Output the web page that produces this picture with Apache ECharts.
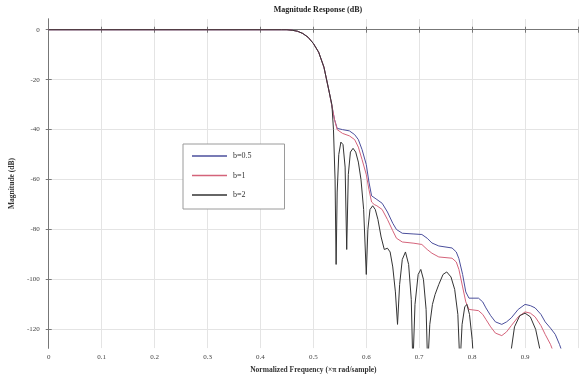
<!DOCTYPE html>
<html>
<head>
<meta charset="utf-8">
<script src="https://cdn.jsdelivr.net/npm/echarts@6/dist/echarts.min.js"></script>
<style>
  html, body { margin: 0; padding: 0; background: #fff; }
  #chart { width: 581px; height: 379px; }
</style>
</head>
<body>
<div id="chart"></div>
<script>
// Passband and transition band, shared by all three filters
const freqPass = [0, 0.1, 0.2, 0.3, 0.4, 0.44, 0.45, 0.46, 0.47, 0.48, 0.49, 0.50, 0.51, 0.52, 0.53];
const dbPass   = [0, 0, 0, 0, 0, 0, 0, -0.2, -0.6, -1.5, -3, -5.5, -9, -15, -25];

// Stopband, b = 0.5
const freqB05 = [0.54, 0.545, 0.555, 0.568, 0.578, 0.585, 0.592, 0.6, 0.605, 0.61, 0.62, 0.63, 0.64, 0.65, 0.657, 0.668, 0.69, 0.705, 0.715, 0.724, 0.737, 0.762, 0.77, 0.775, 0.782, 0.788, 0.794, 0.812, 0.82, 0.826, 0.835, 0.844, 0.856, 0.865, 0.874, 0.887, 0.9, 0.91, 0.919, 0.93, 0.938, 0.948, 0.957, 0.965, 0.975];
const dbB05   = [-36, -39.5, -40, -40.5, -42, -44, -48, -54, -61, -66.5, -68, -69.5, -73, -77.5, -80, -81.5, -81.8, -82, -83.5, -85.4, -86.6, -87.4, -89, -91.7, -98, -105, -107.5, -107.5, -109, -111.4, -114.5, -117, -118, -117, -115.4, -112, -110, -110.5, -111.4, -114, -117, -119.5, -122, -126, -132];

// Stopband, b = 1
const freqB1 = [0.54, 0.545, 0.555, 0.568, 0.578, 0.585, 0.592, 0.6, 0.605, 0.61, 0.615, 0.62, 0.63, 0.64, 0.65, 0.657, 0.668, 0.69, 0.705, 0.715, 0.724, 0.737, 0.762, 0.77, 0.775, 0.782, 0.788, 0.794, 0.812, 0.82, 0.826, 0.835, 0.844, 0.856, 0.865, 0.874, 0.887, 0.9, 0.91, 0.919, 0.93, 0.938, 0.948, 0.957];
const dbB1   = [-36, -40, -41.5, -42.5, -44, -47, -52, -58, -64, -69, -70, -70.5, -72, -76, -80.5, -83.5, -85, -85.5, -86, -88, -89.5, -91, -91.5, -93, -96, -103, -109, -112, -112.5, -114, -116, -119, -121.5, -122.5, -121, -118.5, -115, -113, -113.5, -115, -118.5, -122, -126, -131];

// Stopband, b = 2
const freqB2 = [0.535, 0.538, 0.541, 0.543, 0.545, 0.548, 0.552, 0.556, 0.56, 0.563, 0.566, 0.57, 0.575, 0.58, 0.585, 0.59, 0.595, 0.6, 0.603, 0.607, 0.612, 0.617, 0.622, 0.628, 0.634, 0.64, 0.645, 0.65, 0.655, 0.659, 0.663, 0.668, 0.674, 0.68, 0.685, 0.688, 0.692, 0.698, 0.703, 0.708, 0.713, 0.716, 0.72, 0.725, 0.73, 0.737, 0.745, 0.752, 0.76, 0.767, 0.773, 0.777, 0.781, 0.786, 0.79, 0.795, 0.8, 0.805, 0.84, 0.874, 0.88, 0.89, 0.9, 0.91, 0.92, 0.928, 0.935];
const dbB2   = [-30, -40, -60, -94, -65, -50, -45, -46, -55, -88, -58, -49, -47.5, -49, -53, -60, -72, -98, -80, -72, -70.5, -72, -76, -83, -88, -87.5, -89, -95, -105, -118, -102, -92, -89, -94, -108, -135, -110, -98, -96, -100, -112, -135, -118, -110, -106, -102, -98, -97, -99, -104, -114, -135, -118, -111, -110, -114, -124, -140, -150, -128, -119, -114.5, -113.5, -115, -120, -128, -140];

const legendNames = ['b=0.5', 'b=1', 'b=2'];
const yTicks = [0, -20, -40, -60, -80, -100, -120];

function pairs(fa, da) { return fa.map((f, i) => [f, da[i]]); }
const passPts = pairs(freqPass, dbPass);

const FONT = '"Liberation Serif", "DejaVu Serif", serif';
const gridColor = '#e4e4e4';
const axisColor = '#777';

const chart = echarts.init(document.getElementById('chart'), null, { renderer: 'canvas' });

const lineSeries = (name, pts, color) => ({
  name: name,
  type: 'line',
  data: passPts.concat(pts),
  symbol: 'none',
  showSymbol: false,
  lineStyle: { color: color, width: 1 },
  itemStyle: { color: color },
  clip: true,
  animation: false,
  z: 3
});

chart.setOption({
  animation: false,
  backgroundColor: '#fff',
  title: {
    text: 'Magnitude Response (dB)',
    left: 313, top: 1, textAlign: 'center',
    textStyle: { fontFamily: FONT, fontSize: 8, fontWeight: 'bold', color: '#222' }
  },
  grid: { left: 47, right: 3, top: 19, bottom: 25, containLabel: false },
  legend: {
    data: legendNames.map(n => ({ name: n, icon: 'rect' })),
    orient: 'vertical',
    left: 183, top: 144,
    padding: [7, 33, 9, 9],
    itemWidth: 35, itemHeight: 1.5, itemGap: 9.5,
    backgroundColor: '#fff',
    borderColor: '#9a9a9a', borderWidth: 1,
    textStyle: { fontFamily: FONT, fontSize: 8, lineHeight: 10, color: '#333', padding: [0, 0, 0, 1] }
  },
  xAxis: [{
    type: 'value', min: 0, max: 1, interval: 0.1,
    name: 'Normalized Frequency (\u00d7\u03c0 rad/sample)',
    nameLocation: 'middle', nameGap: 15,
    nameTextStyle: { fontFamily: FONT, fontSize: 7.5, fontWeight: 'bold', color: '#333' },
    axisLine: { show: true, lineStyle: { color: axisColor, width: 1 } },
    axisTick: { show: true, inside: true, length: 3, lineStyle: { color: axisColor } },
    axisLabel: {
      fontFamily: FONT, fontSize: 7, color: '#444', margin: 6,
      formatter: v => (v > 0.95 ? '' : String(Math.round(v * 10) / 10))
    },
    splitLine: { show: true, lineStyle: { color: gridColor, width: 1 } }
  }, {
    type: 'value', min: 0, max: 1, interval: 0.1, position: 'top',
    axisLine: { show: true, lineStyle: { color: axisColor, width: 1 } },
    axisTick: { show: true, inside: true, length: 3, lineStyle: { color: axisColor } },
    axisLabel: { show: false },
    splitLine: { show: false }
  }],
  yAxis: [{
    type: 'value', min: -127.5, max: 4.3,
    name: 'Magnitude (dB)',
    nameLocation: 'middle', nameGap: 26,
    nameTextStyle: { fontFamily: FONT, fontSize: 7.5, fontWeight: 'bold', color: '#333' },
    axisLine: { show: true, lineStyle: { color: axisColor, width: 1 } },
    axisTick: { show: true, inside: true, length: 3, customValues: yTicks, lineStyle: { color: axisColor } },
    axisLabel: { fontFamily: FONT, fontSize: 7, color: '#444', margin: 9, customValues: yTicks },
    splitLine: { show: true, lineStyle: { color: gridColor, width: 1 } }
  }, {
    type: 'value', min: -127.5, max: 4.3, position: 'right',
    axisLine: { show: true, lineStyle: { color: axisColor, width: 1 } },
    axisTick: { show: true, inside: true, length: 3, customValues: yTicks, lineStyle: { color: axisColor } },
    axisLabel: { show: false },
    splitLine: { show: false }
  }],
  series: [
    lineSeries(legendNames[0], pairs(freqB05, dbB05), '#4b4f9c'),
    lineSeries(legendNames[1], pairs(freqB1, dbB1), '#d4637a'),
    lineSeries(legendNames[2], pairs(freqB2, dbB2), '#333333')
  ]
});
</script>
</body>
</html>
